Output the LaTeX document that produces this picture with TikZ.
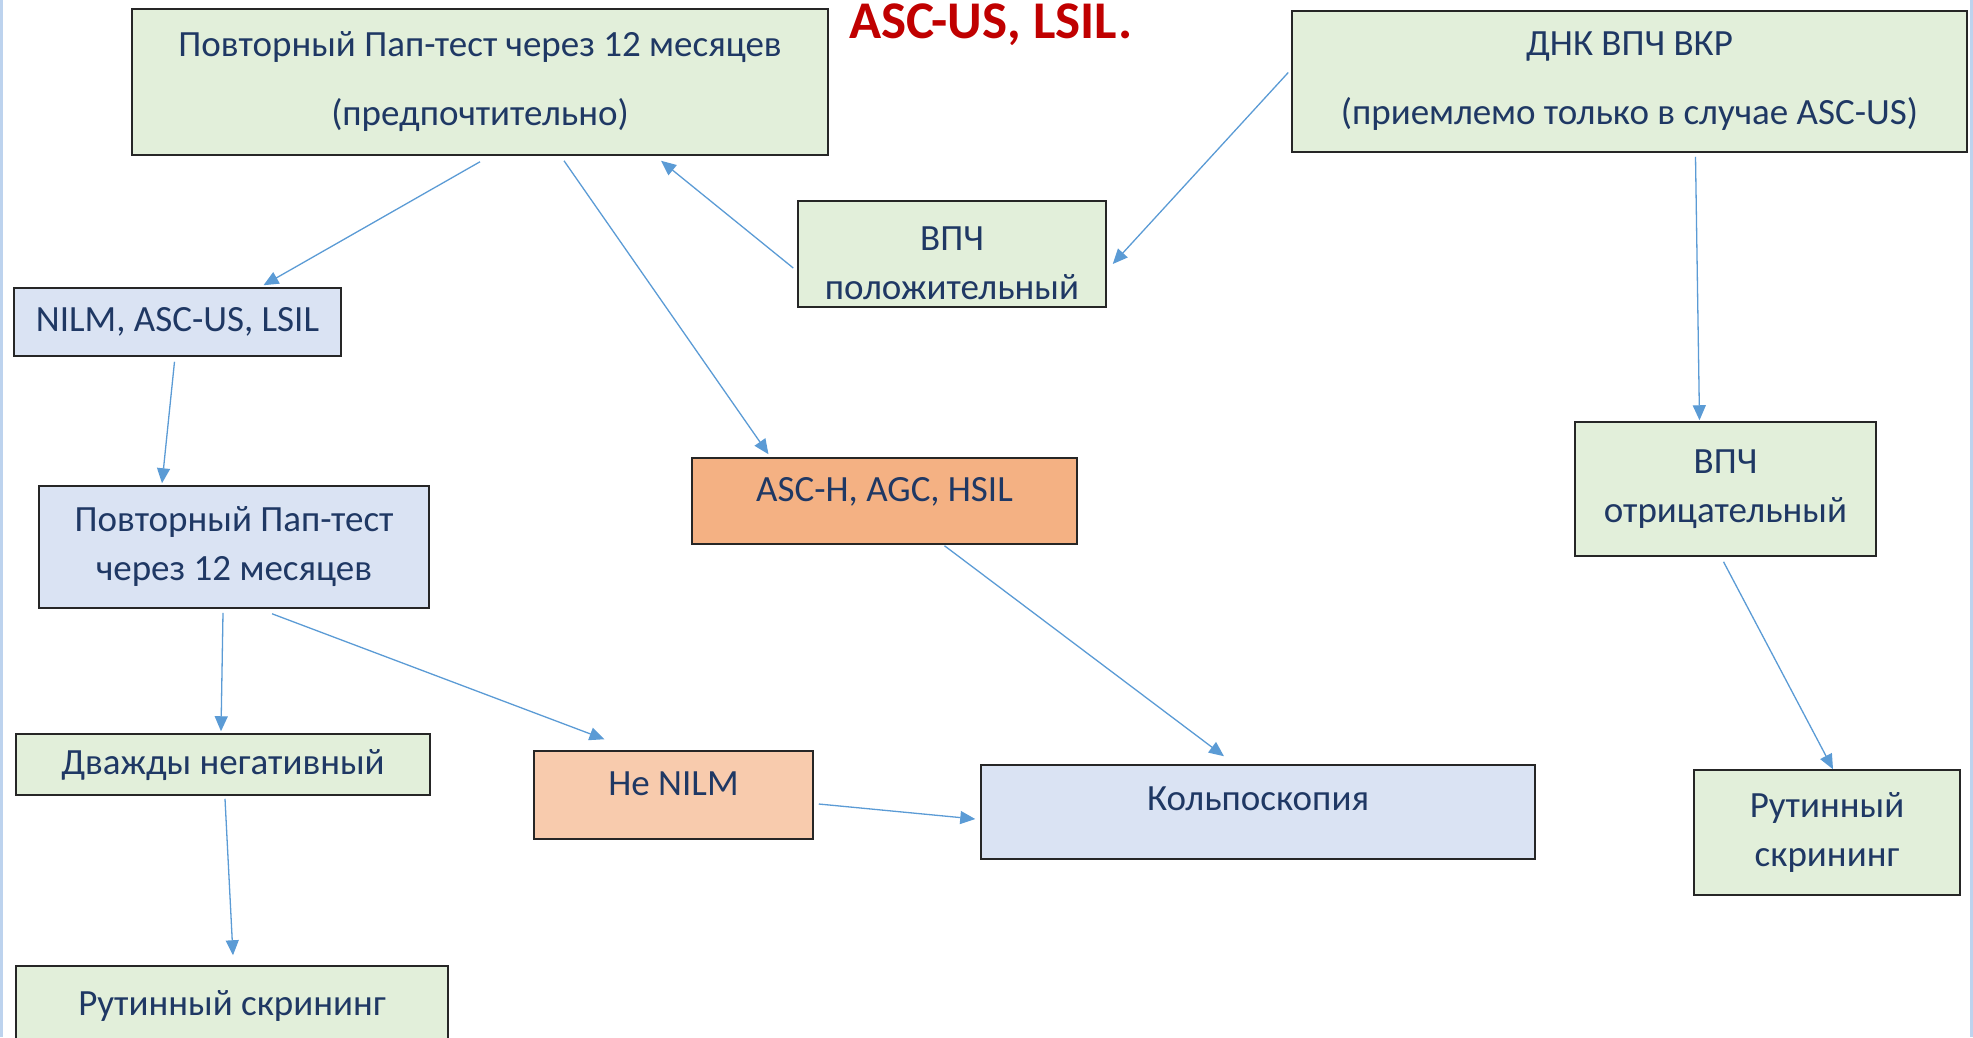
\documentclass[tikz,border=0pt]{standalone}
\usepackage{fontspec}
\setmainfont{Carlito}
\usepackage{tikz}
\usetikzlibrary{positioning,arrows.meta}
\definecolor{navy}{HTML}{1F3864}
\definecolor{boxgreen}{HTML}{E2EFDA}
\definecolor{boxblue}{HTML}{DAE3F3}
\definecolor{boxorange}{HTML}{F4B183}
\definecolor{boxpeach}{HTML}{F8CBAD}
\definecolor{linkblue}{HTML}{5B9BD5}
\definecolor{titlered}{HTML}{C00000}
\definecolor{slideedge}{HTML}{BDD3EE}
\tikzset{%
	box/.style={%
		rectangle,
		draw=black!85,
		line width=1.5pt,
		text=navy,
		align=center,
		inner sep=0pt,
		font=\fontsize{37}{49}\selectfont
	},
	oneline/.style={text height=27pt, text depth=8pt},
	widelines/.style={font=\fontsize{37}{69}\selectfont},
	greenbox/.style={box, fill=boxgreen},
	bluebox/.style={box, fill=boxblue},
	orangebox/.style={box, fill=boxorange},
	peachbox/.style={box, fill=boxpeach},
	link/.style={draw=linkblue, line width=1.3pt, -{Triangle[length=15pt,width=13pt]}}
}
\begin{document}
\begin{tikzpicture}[x=1pt, y=-1pt]
	\useasboundingbox (0,0) rectangle (1973,1037);
	\draw[slideedge, line width=3pt] (1.5,0) -- (1.5,1037);
	\draw[slideedge, line width=3pt] (1971,0) -- (1971,1037);

	\node[anchor=base, text=titlered, font=\fontsize{53}{60}\selectfont\bfseries] (title) at (991,38) {ASC-US, LSIL.};

	\node[greenbox, widelines, minimum width=696pt, minimum height=146pt] (pap) at (480,82) {Повторный Пап-тест через 12 месяцев\\(предпочтительно)};
	\node[greenbox, widelines, minimum width=675pt, minimum height=141pt] (dnk) at (1629.5,81.5) {ДНК ВПЧ ВКР\\(приемлемо только в случае ASC-US)};
	\node[greenbox, minimum width=308pt, minimum height=106pt] (pos) at (952,254) {\rule{0pt}{42pt}ВПЧ\\положительный};
	\node[bluebox, oneline, minimum width=327pt, minimum height=68pt] (nilm) at (177.5,322) {NILM, ASC-US, LSIL};
	\node[bluebox, minimum width=390pt, minimum height=122pt] (repap) at (234,547) {Повторный Пап-тест\\через 12 месяцев};
	\node[orangebox, oneline, text depth=26pt, minimum width=385pt, minimum height=86pt] (asch) at (884.5,501) {ASC-H, AGC, HSIL};
	\node[greenbox, minimum width=301pt, minimum height=134pt] (neg) at (1725.5,489) {ВПЧ\\отрицательный};
	\node[greenbox, oneline, minimum width=414pt, minimum height=61pt] (twice) at (223,764.5) {Дважды негативный};
	\node[peachbox, oneline, text depth=26pt, minimum width=279pt, minimum height=88pt] (nenilm) at (673.5,795) {Не NILM};
	\node[bluebox, oneline, text depth=30pt, minimum width=554pt, minimum height=94pt] (colpo) at (1258,812) {Кольпоскопия};
	\node[greenbox, minimum width=266pt, minimum height=125pt] (screenr) at (1827,832.5) {Рутинный\\скрининг};
	\node[greenbox, oneline, minimum width=432pt, minimum height=80pt] (screenl) at (232,1006) {Рутинный скрининг};

	\draw[link] ([yshift=-6pt]pap.south) -- ([xshift=86pt,yshift=2pt]nilm.north);
	\draw[link] ([xshift=84pt,yshift=-5pt]pap.south) -- ([xshift=-116pt,yshift=3pt]asch.north);
	\draw[link] ([xshift=-4pt,yshift=-14pt]pos.west) -- ([xshift=181pt,yshift=-5pt]pap.south);
	\draw[link] ([xshift=-3pt,yshift=9pt]dnk.west) -- ([xshift=6pt,yshift=-10pt]pos.east);
	\draw[link] ([xshift=66pt,yshift=-4pt]dnk.south) -- ([xshift=-26pt,yshift=1pt]neg.north);
	\draw[link] ([xshift=-3pt,yshift=-5pt]nilm.south) -- ([xshift=-72pt,yshift=2pt]repap.north);
	\draw[link] ([xshift=-11pt,yshift=-4pt]repap.south) -- ([xshift=-2pt,yshift=2pt]twice.north);
	\draw[link] ([xshift=38pt,yshift=-5pt]repap.south) -- ([xshift=-69pt,yshift=11pt]nenilm.north);
	\draw[link] ([xshift=60pt,yshift=-1pt]asch.south) -- ([xshift=-34pt,yshift=8pt]colpo.north);
	\draw[link] ([xshift=5pt,yshift=-9pt]nenilm.east) -- ([xshift=-5pt,yshift=-7pt]colpo.west);
	\draw[link] ([xshift=2pt,yshift=-3pt]twice.south) -- ([xshift=1pt,yshift=10pt]screenl.north);
	\draw[link] ([xshift=-2pt,yshift=-5pt]neg.south) -- ([xshift=6pt]screenr.north);
\end{tikzpicture}
\end{document}
